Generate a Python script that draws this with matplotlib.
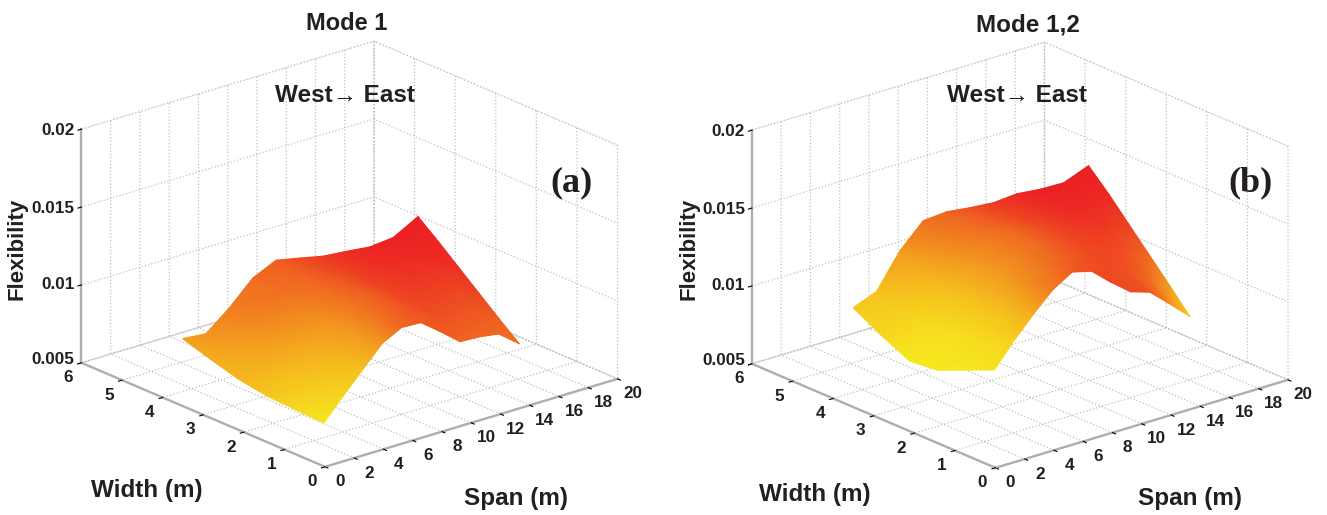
import numpy as np
import matplotlib
matplotlib.use('Agg')
import matplotlib.pyplot as plt
from matplotlib.colors import LinearSegmentedColormap
from matplotlib.ticker import NullFormatter
from mpl_toolkits.mplot3d import proj3d

plt.rcParams['font.family'] = ['Liberation Sans', 'DejaVu Sans']
plt.rcParams['font.weight'] = 'bold'

W, H = 1327, 515

# plan of the deck: read positions of the surface edges (m)
span_pos = [2, 3.6, 5.2, 6.8, 8.4, 10, 11.6, 13.2, 14.8, 16.4, 18.1]
width_front = [0.75, 0.85, 0.94, 1.04, 1.14, 1.24, 1.33, 1.43, 1.53, 1.63, 1.73]
width_back = 4.23
width_frac = [0, 0.2, 0.4, 0.6, 0.8, 1]

# flexibility, one line per span position, front edge to back edge
flex_a = [
    [.00641, .00649, .00658, .00688, .00739, .00796],
    [.00758, .00750, .00750, .00760, .00770, .00782],
    [.00874, .00860, .00860, .00870, .00880, .00903],
    [.00984, .00980, .00980, .01000, .01020, .01049],
    [.01030, .01040, .01050, .01070, .01090, .01119],
    [.01005, .01030, .01050, .01060, .01070, .01087],
    [.00891, .00950, .00990, .01020, .01040, .01054],
    [.00771, .00860, .00930, .00980, .01020, .01040],
    [.00746, .00830, .00900, .00960, .01000, .01023],
    [.00708, .00800, .00880, .00950, .01000, .01038],
    [.00585, .00690, .00800, .00910, .01020, .01125],
]
flex_b = [
    [.00988, .00910, .00831, .00813, .00900, .01001],
    [.01117, .01050, .01000, .00980, .01000, .01059],
    [.01235, .01180, .01150, .01150, .01200, .01276],
    [.01335, .01300, .01300, .01320, .01370, .01424],
    [.01392, .01380, .01380, .01400, .01420, .01436],
    [.01342, .01360, .01380, .01390, .01410, .01417],
    [.01215, .01270, .01310, .01350, .01380, .01404],
    [.01098, .01180, .01250, .01310, .01370, .01416],
    [.01039, .01120, .01200, .01280, .01350, .01400],
    [.00910, .01020, .01130, .01230, .01320, .01396],
    [.00767, .00910, .01050, .01190, .01330, .01458],
]

# colour level (0 yellow, 1 red)
heat_a = [
    [0.00, 0.08, 0.17, 0.25, 0.30, 0.35],
    [0.10, 0.15, 0.22, 0.30, 0.35, 0.40],
    [0.20, 0.25, 0.30, 0.38, 0.45, 0.50],
    [0.40, 0.38, 0.40, 0.47, 0.55, 0.58],
    [0.60, 0.55, 0.55, 0.58, 0.62, 0.65],
    [0.68, 0.65, 0.65, 0.68, 0.72, 0.75],
    [0.68, 0.70, 0.75, 0.80, 0.82, 0.85],
    [0.62, 0.72, 0.80, 0.85, 0.90, 0.92],
    [0.60, 0.70, 0.80, 0.88, 0.93, 0.97],
    [0.60, 0.68, 0.78, 0.88, 0.95, 1.00],
    [0.55, 0.65, 0.78, 0.90, 0.97, 1.00],
]
heat_b = [
    [0.02, 0.00, 0.00, 0.00, 0.10, 0.15],
    [0.12, 0.08, 0.05, 0.06, 0.12, 0.20],
    [0.30, 0.22, 0.20, 0.20, 0.28, 0.38],
    [0.50, 0.42, 0.38, 0.40, 0.48, 0.55],
    [0.65, 0.55, 0.50, 0.52, 0.58, 0.62],
    [0.75, 0.65, 0.60, 0.60, 0.68, 0.72],
    [0.78, 0.72, 0.68, 0.70, 0.78, 0.85],
    [0.75, 0.75, 0.75, 0.80, 0.88, 0.95],
    [0.70, 0.72, 0.78, 0.86, 0.95, 1.00],
    [0.45, 0.60, 0.72, 0.85, 0.95, 1.00],
    [0.10, 0.35, 0.60, 0.80, 0.95, 1.00],
]

span_ticks = list(range(0, 21, 2))
width_ticks = list(range(0, 7))
flex_ticks = [0.005, 0.01, 0.015, 0.02]
flex_labels = ['0.005', '0.01', '0.015', '0.02']

cmap = LinearSegmentedColormap.from_list(
    'surf', ['#f6e81e', '#f5b81e', '#f17c20', '#ee4a22', '#ec2024'])

fig = plt.figure(figsize=(W / 100, H / 100), dpi=100, facecolor='white')


def px_text(x, y, s, **kw):
    fig.text(x / W, 1 - y / H, s, ha='center', va='center', color='#231f20', **kw)


def draw_panel(cx, cy, flex, heat):
    side = 576
    left = cx - 0.5135 * side
    bottom = H - cy - 0.5135 * side
    rect = [left / W, bottom / H, side / W, side / H]
    ax = fig.add_axes(rect, projection='3d')
    ax.patch.set_alpha(0)
    ax.set_proj_type('ortho')
    ax.view_init(elev=21, azim=-130)
    ax.set_box_aspect((383, 380, 251))

    fr = np.array(width_frac)
    X = np.outer(span_pos, np.ones(len(fr)))
    Y = np.array([w + fr * (width_back - w) for w in width_front])
    Z = np.array(flex)
    h = np.array(heat)
    cell = (h[:-1, :-1] + h[1:, :-1] + h[:-1, 1:] + h[1:, 1:]) / 4
    ax.plot_surface(X, Y, Z, facecolors=cmap(cell), rstride=1, cstride=1,
                    shade=False, linewidth=0, antialiased=True)

    ax.set_xlim(0, 20, view_margin=0)
    ax.set_ylim(0, 6, view_margin=0)
    ax.set_zlim(0.005, 0.02, view_margin=0)
    ax.set_xticks(span_ticks)
    ax.set_yticks(width_ticks)
    ax.set_zticks(flex_ticks)

    for axis in (ax.xaxis, ax.yaxis, ax.zaxis):
        axis.set_major_formatter(NullFormatter())
        axis.pane.set_facecolor((1, 1, 1, 0))
        axis.pane.set_edgecolor('#c4c4c4')
        axis.pane.set_linestyle(':')
        axis.line.set_color('#aeaeae')
        axis.line.set_linewidth(1.7)
        axis._axinfo['grid'].update(color='#bfbfbf', linestyle=':', linewidth=0.9)
        axis._axinfo['tick'].update(inward_factor=0.15, outward_factor=0.0,
                                    color='#9a9a9a')

    # same axes box in 2D, for the smooth shading and the tick labels
    over = fig.add_axes(rect)
    over.set_axis_off()
    over.set_xlim(ax.viewLim.intervalx)
    over.set_ylim(ax.viewLim.intervaly)
    M = ax.get_proj()
    xs, ys, _ = proj3d.proj_transform(X.ravel(), Y.ravel(), Z.ravel(), M)
    over.pcolormesh(xs.reshape(X.shape), ys.reshape(X.shape), h, shading='gouraud',
                    cmap=cmap, vmin=0, vmax=1)

    def tick_labels(px, py, pz, labels, dx, dy, ha):
        xv, yv, _ = proj3d.proj_transform(np.array(px, float), np.array(py, float),
                                          np.array(pz, float), M)
        for a, b, s, d in zip(xv, yv, labels, dy):
            over.annotate(s, (a, b), xytext=(dx, d), textcoords='offset pixels',
                          ha=ha, va='center', fontsize=12.3, color='#231f20')

    n = len(span_ticks)
    tick_labels(span_ticks, [0] * n, [flex_ticks[0]] * n,
                [str(v) for v in span_ticks], 15, [-15] * n, 'center')
    n = len(width_ticks)
    tick_labels([0] * n, width_ticks, [flex_ticks[0]] * n,
                [str(v) for v in width_ticks], -13, [-15] * n, 'center')
    n = len(flex_ticks)
    tick_labels([0] * n, [6] * n, flex_ticks, flex_labels, -7, [3, 0, -1, -1], 'right')
    return ax


draw_panel(349.5, 254, flex_a, heat_a)
draw_panel(1020, 255, flex_b, heat_b)

px_text(347, 24, 'Mode 1', fontsize=17)
px_text(345, 96, 'West→ East', fontsize=17.5)
px_text(571, 183, '(a)', fontsize=26, family='Liberation Serif')
px_text(17, 249, 'Flexibility', fontsize=16, rotation=90)
px_text(147, 491, 'Width (m)', fontsize=17.5)
px_text(516, 499, 'Span (m)', fontsize=17.5)

px_text(1028, 25, 'Mode 1,2', fontsize=17.5)
px_text(1017, 96, 'West→ East', fontsize=17.5)
px_text(1250, 183, '(b)', fontsize=26, family='Liberation Serif')
px_text(689, 249, 'Flexibility', fontsize=16, rotation=90)
px_text(815, 494, 'Width (m)', fontsize=17.5)
px_text(1190, 499, 'Span (m)', fontsize=17.5)

fig.savefig('out.png', dpi=100, facecolor='white')
